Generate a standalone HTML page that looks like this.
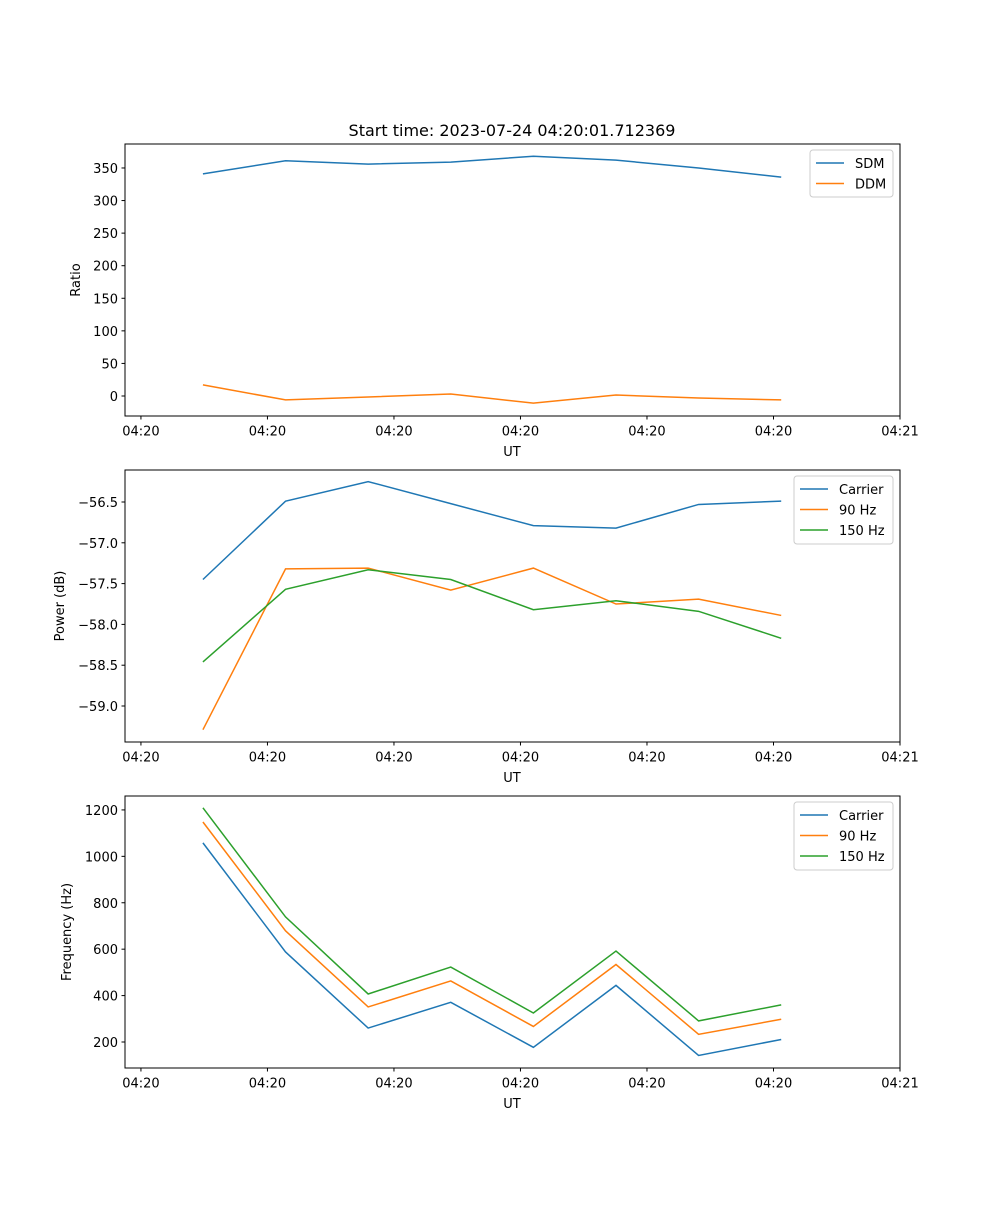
<!DOCTYPE html>
<html><head><meta charset="utf-8"><style>
body{margin:0;background:#fff}
svg{font-family:"DejaVu Sans","Liberation Sans",sans-serif}
</style></head><body>
<svg id="fig" width="1000" height="1200" xmlns="http://www.w3.org/2000/svg">
<text x="512" y="136" font-size="16" text-anchor="middle">Start time: 2023-07-24 04:20:01.712369</text>
</svg>
<script>
const times = [4.9, 11.43, 17.96, 24.49, 31.02, 37.55, 44.08, 50.61];
const xTicks = [0, 10, 20, 30, 40, 50, 60];
const xTickLabels = ["04:20","04:20","04:20","04:20","04:20","04:20","04:21"];
const sdm = [341, 361, 356, 359, 368, 362, 350, 336];
const ddm = [17, -6, -1.5, 3, -11, 1.5, -3, -6];
const powCarrier = [-57.45, -56.49, -56.25, -56.52, -56.79, -56.82, -56.53, -56.49];
const pow90 = [-59.29, -57.32, -57.31, -57.58, -57.31, -57.75, -57.69, -57.89];
const pow150 = [-58.46, -57.57, -57.33, -57.45, -57.82, -57.71, -57.84, -58.17];
const freqCarrier = [1058, 588, 260, 371, 177, 444, 142, 211];
const freq90 = [1148, 679, 351, 463, 267, 534, 233, 298];
const freq150 = [1209, 739, 407, 523, 325, 592, 291, 360];
const ratioTicks = [0,50,100,150,200,250,300,350];
const powTicks = [-59.0,-58.5,-58.0,-57.5,-57.0,-56.5];
const freqTicks = [200,400,600,800,1000,1200];

const NS="http://www.w3.org/2000/svg";
const svg=document.getElementById('fig');
const X0=125,X1=900,XMIN=-1.26,XMAX=60;
const sx=t=>X0+(t-XMIN)/(XMAX-XMIN)*(X1-X0);
function mk(tag,attrs,parent){const e=document.createElementNS(NS,tag);for(const k in attrs)e.setAttribute(k,attrs[k]);(parent||svg).appendChild(e);return e;}
const colors={blue:"#1f77b4",orange:"#ff7f0e",green:"#2ca02c"};

function panel(name,top,ymin,ymax,yticks,fmt,ylabel,series,legendW){
  const bot=top+272;
  const sy=v=>bot-(v-ymin)/(ymax-ymin)*272;
  const g=mk('g',{});
  
  
  series.forEach(s=>{
    const p=mk('polyline',{points:s.vals.map((v,i)=>sx(times[i])+','+sy(v)).join(' '),fill:'none',stroke:s.color,'stroke-width':1.5},g);
    
    
  });
  const fr=mk('rect',{x:X0,y:top,width:X1-X0,height:272,fill:'none',stroke:'#000','stroke-width':1},g);
  
  
  xTicks.forEach((t,i)=>{
    mk('line',{x1:sx(t),x2:sx(t),y1:bot,y2:bot+3.5,stroke:'#000'},g);
    const tx=mk('text',{x:sx(t),y:bot+19.5,'font-size':13,'text-anchor':'middle'},g);
    tx.textContent=xTickLabels[i];
    
    
  });
  const xl=mk('text',{x:512,y:bot+40,'font-size':13,'text-anchor':'middle'},g);
  xl.textContent='UT';
  
  
  yticks.forEach(v=>{
    mk('line',{x1:X0-3.5,x2:X0,y1:sy(v),y2:sy(v),stroke:'#000'},g);
    const tx=mk('text',{x:X0-7,y:sy(v)+5,'font-size':13,'text-anchor':'end'},g);
    tx.textContent=fmt(v);
    
    
  });
  const yl=mk('text',{x:0,y:0,'font-size':13,'text-anchor':'middle',transform:`translate(${name==='ratio'?80:name==='power'?64:71},${top+136}) rotate(-90)`},g);
  yl.textContent=ylabel;
  
  
  const lx=X1-7-legendW, ly=top+6, lh=5+series.length*21;
  const lg=mk('g',{},g);
  
  
  mk('rect',{x:lx,y:ly,width:legendW,height:lh,rx:3,fill:'#fff','fill-opacity':0.8,stroke:'#ccc'},lg);
  series.forEach((s,i)=>{
    const yy=ly+13+i*20.5;
    mk('line',{x1:lx+6,x2:lx+34,y1:yy,y2:yy,stroke:s.color,'stroke-width':1.5},lg);
    const t=mk('text',{x:lx+45,y:yy+5,'font-size':13},lg);
    t.textContent=s.label;
    
    
  });
}
panel('ratio',144,-30.7,386.8,ratioTicks,v=>String(v),'Ratio',[
 {id:'sdm',label:'SDM',vals:sdm,color:colors.blue},
 {id:'ddm',label:'DDM',vals:ddm,color:colors.orange}],83);
panel('power',470,-59.441,-56.108,powTicks,v=>v.toFixed(1).replace('-','\u2212'),'Power (dB)',[
 {id:'carrier',label:'Carrier',vals:powCarrier,color:colors.blue},
 {id:'90hz',label:'90 Hz',vals:pow90,color:colors.orange},
 {id:'150hz',label:'150 Hz',vals:pow150,color:colors.green}],99);
panel('frequency',796,88,1260,freqTicks,v=>String(v),'Frequency (Hz)',[
 {id:'carrier',label:'Carrier',vals:freqCarrier,color:colors.blue},
 {id:'90hz',label:'90 Hz',vals:freq90,color:colors.orange},
 {id:'150hz',label:'150 Hz',vals:freq150,color:colors.green}],99);
</script>
</body></html>
